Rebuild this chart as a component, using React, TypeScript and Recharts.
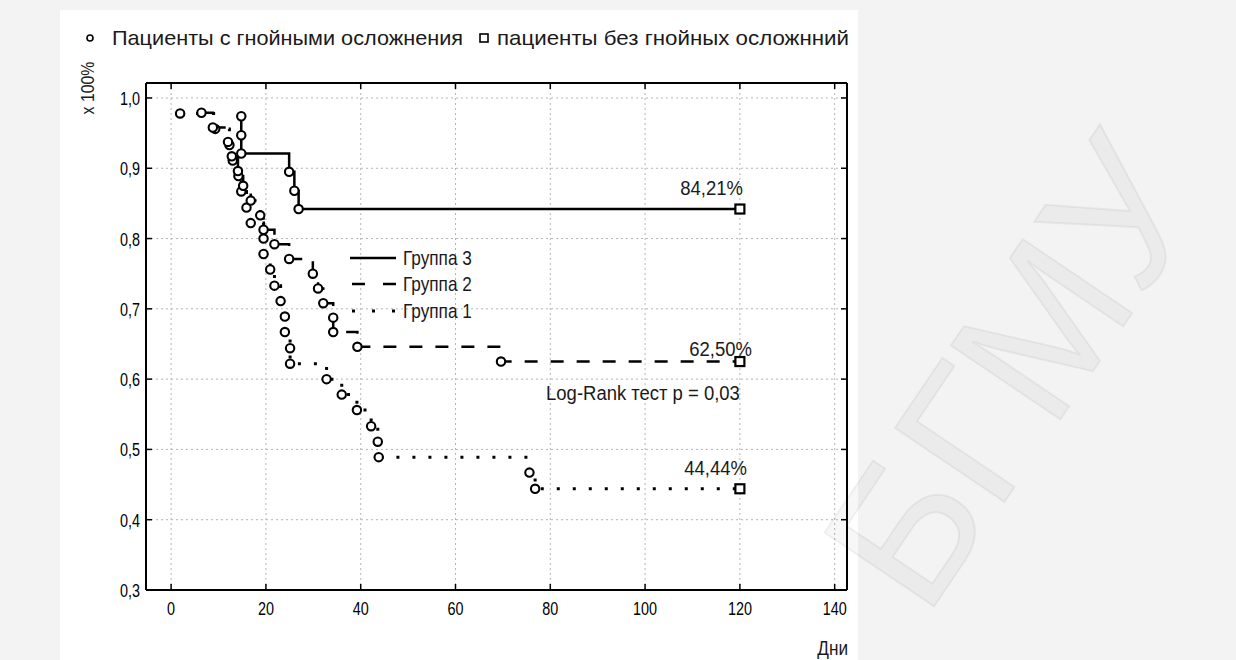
import React from 'react';
import { LineChart, Line, XAxis, YAxis, CartesianGrid, ReferenceDot } from 'recharts';

const FONT = "'Liberation Sans', Arial, sans-serif";

// Группа 1 (пунктир точками)
const group1Days = [1.9, 9.3, 12.3, 13, 14.2, 14.8, 15.9, 16.8, 19.5, 19.5, 20.9, 21.8, 23.1, 24, 24, 25.1, 25.1, 32.8, 36, 39.2, 42.2, 43.6, 43.8, 75.6, 76.8, 120];
const group1Surv = [0.978, 0.956, 0.933, 0.911, 0.889, 0.867, 0.844, 0.822, 0.8, 0.778, 0.756, 0.733, 0.711, 0.689, 0.667, 0.644, 0.622, 0.6, 0.578, 0.556, 0.533, 0.511, 0.489, 0.467, 0.444, 0.444];

// Группа 2 (штрих)
const group2Days = [6.4, 8.8, 12, 12.8, 14.1, 15.2, 16.8, 18.8, 19.5, 21.8, 24.9, 29.9, 31, 32.1, 34.2, 34.2, 39.3, 69.6, 120];
const group2Surv = [0.979, 0.958, 0.9375, 0.917, 0.896, 0.875, 0.854, 0.833, 0.8125, 0.792, 0.771, 0.75, 0.729, 0.708, 0.6875, 0.667, 0.646, 0.625, 0.625];

// Группа 3 (сплошная)
const group3Days = [14.8, 14.8, 14.8, 24.9, 26, 26.9, 120];
const group3Surv = [0.974, 0.947, 0.921, 0.895, 0.868, 0.842, 0.842];

const xTicks = [0, 20, 40, 60, 80, 100, 120, 140];
const yTicks = [0.3, 0.4, 0.5, 0.6, 0.7, 0.8, 0.9, 1.0];

const finalLabels = ['84,21%', '62,50%', '44,44%'];

const toRows = (days: number[], surv: number[]) => days.map((d, i) => ({ x: d, y: surv[i] }));
const g1 = toRows(group1Days, group1Surv);
const g2 = toRows(group2Days, group2Surv);
const g3 = toRows(group3Days, group3Surv);

const fmt = (v: number) => v.toFixed(1).replace('.', ',');

// узкий текст: шрифт побольше, сжатый по горизонтали
const NText = ({ x, y, size, sx = 0.8, anchor = 'start', fill = '#1a1a1a', children }: any) => (
  <text transform={`translate(${x} ${y}) scale(${sx} 1)`} textAnchor={anchor} fontSize={size}
    fontFamily={FONT} fill={fill}>{children}</text>
);

const makeDot = (lastIndex: number) => (props: any) => {
  const { cx, cy, index } = props;
  if (index === lastIndex) {
    return <rect key={`s-${index}`} x={cx - 4.5} y={cy - 4.5} width={9} height={9} fill="#fff" stroke="#000" strokeWidth={2.2} />;
  }
  return <circle key={`c-${index}`} cx={cx} cy={cy} r={4.2} fill="#fff" stroke="#000" strokeWidth={2.1} />;
};

const BottomTick = (props: any) => {
  const { x, y, payload } = props;
  return (
    <g>
      <line x1={x} x2={x} y1={y} y2={y - 6} stroke="#000" strokeWidth={1.5} />
      <NText x={x} y={y + 25} size={18} anchor="middle" fill="#000">{payload.value}</NText>
    </g>
  );
};
const TopTick = (props: any) => {
  const { x, y } = props;
  return <line x1={x} x2={x} y1={y} y2={y + 6} stroke="#000" strokeWidth={1.5} />;
};
const LeftTick = (props: any) => {
  const { x, y, payload } = props;
  return (
    <g>
      <line x1={x} x2={x + 6} y1={y} y2={y} stroke="#000" strokeWidth={1.5} />
      <NText x={x - 6} y={y + 7} size={18} anchor="end" fill="#000">{fmt(payload.value)}</NText>
    </g>
  );
};
const RightTick = (props: any) => {
  const { x, y } = props;
  return <line x1={x} x2={x - 6} y1={y} y2={y} stroke="#000" strokeWidth={1.5} />;
};

const endLabel = (text: string, dx: number, dy: number) => (props: any) => {
  const vb = props.viewBox || {};
  const cx = vb.x + (vb.width || 0) / 2;
  const cy = vb.y + (vb.height || 0) / 2;
  return <NText x={cx + dx} y={cy + dy} size={21} sx={0.88} anchor="end">{text}</NText>;
};

const axisCommon = {
  type: 'number' as const,
  allowDataOverflow: true,
  tickSize: 0,
  tickMargin: 0,
  tickLine: false,
  interval: 0 as const,
  axisLine: { stroke: '#000', strokeWidth: 2 },
};

export default function App() {
  return (
    <div style={{ position: 'absolute', left: 0, top: 0, width: 1236, height: 660, background: '#f3f3f3', overflow: 'hidden' }}>
      <div style={{ position: 'absolute', left: 60, top: 10, width: 798, height: 650, background: '#fff' }} />
      <div style={{ position: 'absolute', left: 0, top: 0 }}>
        <LineChart width={1236} height={660} margin={{ top: 82, left: 145, right: 388, bottom: 69 }}>
          <CartesianGrid stroke="#b5b5b5" strokeDasharray="2 3" />
          <XAxis {...axisCommon} dataKey="x" domain={[-5.3, 142.6]} ticks={xTicks} height={1} tick={<BottomTick />} />
          <XAxis {...axisCommon} xAxisId="top" orientation="top" dataKey="x" domain={[-5.3, 142.6]} ticks={xTicks} height={1} tick={<TopTick />} />
          <YAxis {...axisCommon} dataKey="y" domain={[0.3, 1.0213]} ticks={yTicks} width={1} tick={<LeftTick />} />
          <YAxis {...axisCommon} yAxisId="right" orientation="right" dataKey="y" domain={[0.3, 1.0213]} ticks={yTicks} width={1} tick={<RightTick />} />
          <Line data={g1} dataKey="y" type="stepAfter" stroke="#000" strokeWidth={3} strokeDasharray="3 13"
            dot={makeDot(g1.length - 1)} isAnimationActive={false} />
          <Line data={g2} dataKey="y" type="stepAfter" stroke="#000" strokeWidth={2.5} strokeDasharray="13 13"
            dot={makeDot(g2.length - 1)} isAnimationActive={false} />
          <Line data={g3} dataKey="y" type="stepAfter" stroke="#000" strokeWidth={2.5}
            dot={makeDot(g3.length - 1)} isAnimationActive={false} />
          <ReferenceDot x={120} y={group3Surv[group3Surv.length - 1]} r={0} fill="none" stroke="none"
            label={endLabel(finalLabels[0], 3, -14)} />
          <ReferenceDot x={120} y={group2Surv[group2Surv.length - 1]} r={0} fill="none" stroke="none"
            label={endLabel(finalLabels[1], 12, -6)} />
          <ReferenceDot x={120} y={group1Surv[group1Surv.length - 1]} r={0} fill="none" stroke="none"
            label={endLabel(finalLabels[2], 7, -14)} />
          <ReferenceDot x={120} y={group2Surv[group2Surv.length - 1]} r={0} fill="none" stroke="none"
            label={endLabel('Log-Rank тест p = 0,03', 0, 38)} />
        </LineChart>
      </div>
      <svg width={1236} height={660} style={{ position: 'absolute', left: 0, top: 0, pointerEvents: 'none' }}>
        {/* верхняя легенда */}
        <circle cx={90} cy={38} r={3} fill="#fff" stroke="#000" strokeWidth={1.6} />
        <text x={112} y={45} fontFamily={FONT} fontSize={21} fill="#1a1a1a" textLength={351} lengthAdjust="spacingAndGlyphs">Пациенты с гнойными осложнения</text>
        <rect x={480} y={34} width={8} height={8} fill="#fff" stroke="#000" strokeWidth={1.6} />
        <text x={497} y={45} fontFamily={FONT} fontSize={21} fill="#1a1a1a" textLength={352} lengthAdjust="spacingAndGlyphs">пациенты без гнойных осложнний</text>
        {/* легенда групп */}
        <line x1={350} x2={396} y1={258} y2={258} stroke="#000" strokeWidth={2.5} />
        <NText x={403} y={265} size={20} sx={0.86}>Группа 3</NText>
        <line x1={352} x2={396} y1={284} y2={284} stroke="#000" strokeWidth={2.5} strokeDasharray="13 18" />
        <NText x={403} y={291} size={20} sx={0.86}>Группа 2</NText>
        <line x1={352} x2={396} y1={311} y2={311} stroke="#000" strokeWidth={3} strokeDasharray="3 17" />
        <NText x={403} y={318} size={20} sx={0.86}>Группа 1</NText>
        {/* подписи осей */}
        <g transform="translate(94 88) rotate(-90)">
          <NText x={0} y={0} size={18} sx={0.88} anchor="middle">x 100%</NText>
        </g>
        <NText x={848} y={655} size={20} sx={0.86} anchor="end">Дни</NText>
        {/* водяной знак */}
        <text transform="translate(1012 372) rotate(-56)" textAnchor="middle" dominantBaseline="central"
          fontFamily={FONT} fontSize={192} fill="#000" fillOpacity={0.03}
          stroke="#000" strokeOpacity={0.05} strokeWidth={2}>БГМУ</text>
      </svg>
    </div>
  );
}
